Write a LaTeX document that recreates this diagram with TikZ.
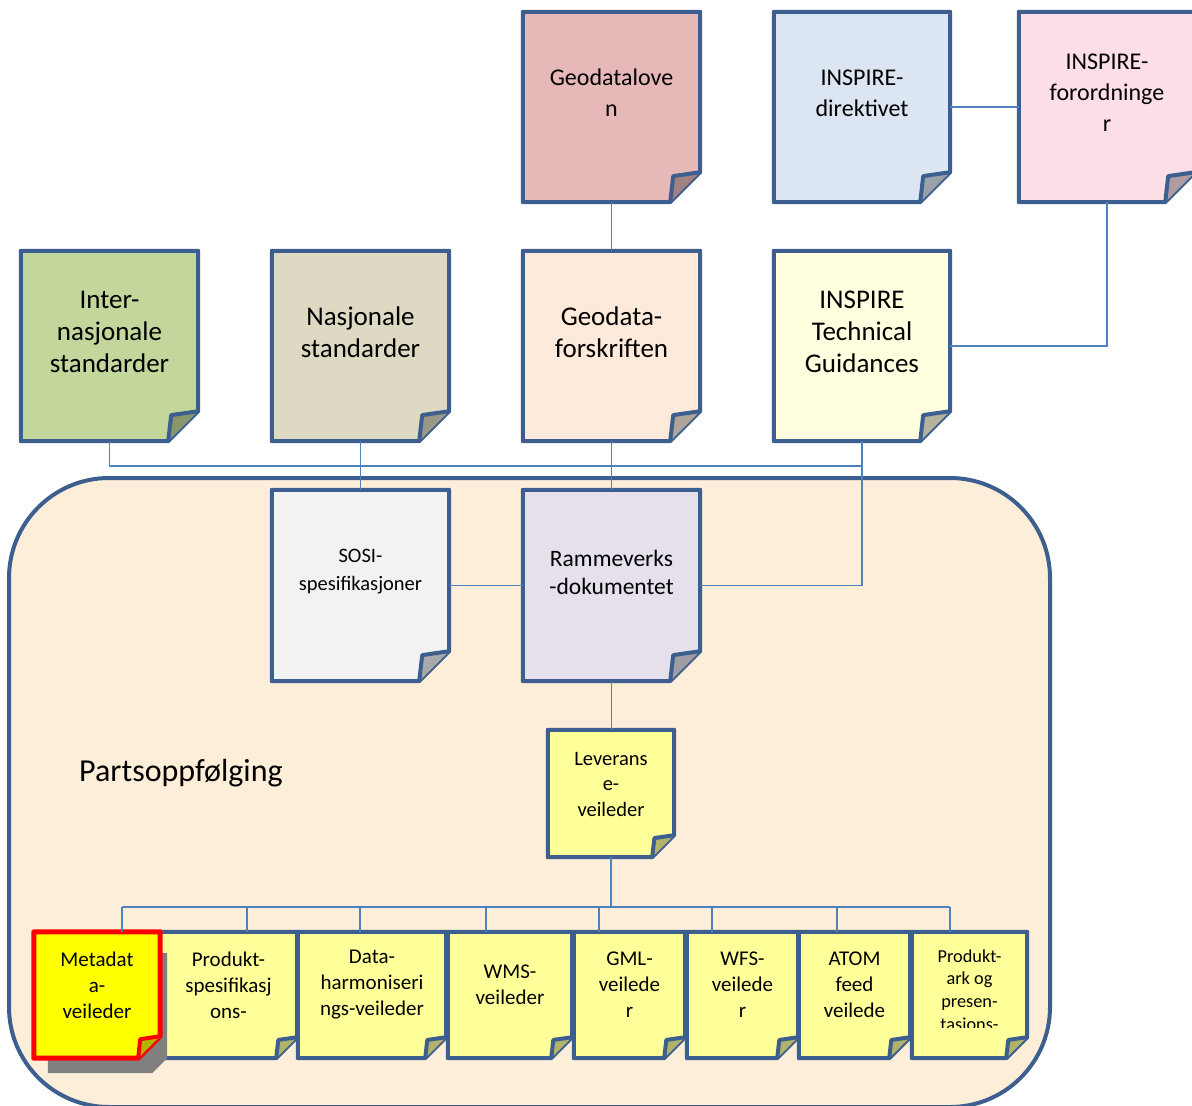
\documentclass[tikz,border=0pt]{standalone}
\usepackage{fontspec}
\setmainfont{Carlito}
\usetikzlibrary{backgrounds}

\definecolor{paperline}{HTML}{3C5F8F}
\definecolor{connline}{HTML}{4F81BD}
\definecolor{framefill}{HTML}{FDEED9}
\definecolor{geolovfill}{HTML}{E6B9B8}
\definecolor{inspdirfill}{HTML}{DCE6F2}
\definecolor{inspforfill}{HTML}{FCDEE6}
\definecolor{intstdfill}{HTML}{C3D69B}
\definecolor{nasstdfill}{HTML}{DDD9C3}
\definecolor{geoforskfill}{HTML}{FDEADA}
\definecolor{insptgfill}{HTML}{FFFFE0}
\definecolor{sosifill}{HTML}{F2F2F2}
\definecolor{rammefill}{HTML}{E5E0EC}
\definecolor{guidefill}{HTML}{FFFF99}
\definecolor{metafill}{HTML}{FFFF00}

\begin{document}
\begin{tikzpicture}[x=1pt, y=-1pt,
	paper/.style 2 args={minimum width=#1, minimum height=#2, inner sep=0pt},
	toptext/.style={align=center, inner sep=0pt, yshift=14, font=\fontsize{24}{31}\selectfont},
	stdtext/.style={align=center, inner sep=0pt, yshift=14, font=\fontsize{27}{32}\selectfont},
	midtext/.style={align=center, inner sep=0pt, yshift=13.5, font=\fontsize{23.5}{28}\selectfont},
	levtext/.style={align=center, inner sep=0pt, yshift=9.5, font=\fontsize{20.5}{25.5}\selectfont},
	bottext/.style={align=center, inner sep=0pt, yshift=10, font=\fontsize{21}{26}\selectfont},
	arktext/.style={align=center, inner sep=0pt, yshift=5, font=\fontsize{18.3}{22.7}\selectfont},
	conn/.style={draw=connline, line width=1.5pt},
	outline/.style={draw=paperline, line width=4pt, line join=round}]
	\useasboundingbox (0,0) rectangle (1192,1106);

	% top row
	\node[paper={177}{190}, label={[toptext]center:{Geodatalove\\n}}] (geolov) at (611.5,107) {};
	\node[paper={176}{190}, label={[toptext]center:{INSPIRE-\\direktivet}}] (inspdir) at (862,107) {};
	\node[paper={176}{190}, label={[toptext]center:{INSPIRE-\\forordninge\\r}}] (inspfor) at (1107,107) {};

	% standards row
	\node[paper={177}{190}, label={[stdtext]center:{Inter-\\nasjonale\\standarder}}] (intstd) at (109.5,346) {};
	\node[paper={177}{190}, label={[stdtext]center:{Nasjonale\\standarder}}] (nasstd) at (360.5,346) {};
	\node[paper={177}{190}, label={[stdtext]center:{Geodata-\\forskriften}}] (geoforsk) at (611.5,346) {};
	\node[paper={176}{190}, label={[stdtext]center:{INSPIRE\\Technical\\Guidances}}] (insptg) at (862,346) {};

	% framework row
	\node[paper={177}{191}, label={[midtext, font=\fontsize{20.5}{28}\selectfont]center:{SOSI-\\spesifikasjoner}}] (sosi) at (360.5,585.5) {};
	\node[paper={177}{191}, label={[midtext]center:{Rammeverks\\-dokumentet}}] (ramme) at (611.5,585.5) {};
	\node[paper={126}{127}, label={[levtext]center:{Leverans\\e-\\veileder}}] (lev) at (611,793.5) {};

	\node[anchor=west, inner sep=0pt, font=\fontsize{32}{38}\selectfont] (parts) at (79,773) {Partsoppfølging};

	% guides
	\node[paper={126}{126}, label={[bottext]center:{Metadat\\a-\\veileder}}] (meta) at (97,995) {};
	\node[paper={137}{126}, label={[bottext]center:{Produkt-\\spesifikasj\\ons-}}] (prodspes) at (228.5,995) {};
	\node[paper={148}{126}, label={[bottext]center:{Data-\\harmoniseri\\ngs-veileder}}] (dataharm) at (372,995) {};
	\node[paper={124}{126}, label={[bottext]center:{WMS-\\veileder}}] (wms) at (510,995) {};
	\node[paper={111}{126}, label={[bottext]center:{GML-\\veilede\\r}}] (gml) at (629.5,995) {};
	\node[paper={111}{126}, label={[bottext]center:{WFS-\\veilede\\r}}] (wfs) at (742.5,995) {};
	\node[paper={111}{126}, label={[bottext]center:{ATOM\\feed\\veilede}}] (atom) at (854.5,995) {};
	\begin{scope}
		\clip (900,900) rectangle (1040,1027);
		\node[paper={115}{126}, label={[arktext]center:{Produkt-\\ark og\\presen-\\tasions-}}] (prodark) at (969.5,995) {};
	\end{scope}

	\begin{scope}[on background layer]
		\draw[outline, fill=framefill, rounded corners=100] (9,478) rectangle (1050,1107);
		\foreach \n/\c/\f in {geolov/geolovfill/30, inspdir/inspdirfill/30, inspfor/inspforfill/30,
			intstd/intstdfill/30, nasstd/nasstdfill/30, geoforsk/geoforskfill/30, insptg/insptgfill/30,
			sosi/sosifill/30, ramme/rammefill/30, lev/guidefill/22,
			prodspes/guidefill/21, dataharm/guidefill/21, wms/guidefill/21, gml/guidefill/21,
			wfs/guidefill/21, atom/guidefill/21, prodark/guidefill/21}{
			\draw[outline, fill=\c] (\n.north west) -- (\n.north east) -- ([yshift=\f]\n.south east)
				-- ([xshift=-\f]\n.south east) -- (\n.south west) -- cycle;
			\draw[outline, fill=\c!70!black] ([yshift=\f]\n.south east) -- ([xshift=-0.9*\f, yshift=0.87*\f]\n.south east)
				-- ([xshift=-\f]\n.south east);
		}
		% shadow and highlighted guide
		\fill[black!50] ([xshift=14,yshift=-21]meta.north west) -- ([xshift=7,yshift=-21]meta.north east)
			-- ([xshift=7]meta.south east) -- ([xshift=-8,yshift=-15]meta.south east)
			-- ([xshift=14,yshift=-15]meta.south west) -- cycle;
		\draw[outline, draw=red, line width=5pt, fill=metafill] (meta.north west) -- (meta.north east)
			-- ([yshift=22]meta.south east) -- ([xshift=-22]meta.south east) -- (meta.south west) -- cycle;
		\draw[outline, draw=red, line width=4pt, fill=metafill!70!black] ([yshift=22]meta.south east)
			-- ([xshift=-20, yshift=19]meta.south east) -- ([xshift=-22]meta.south east);
	\end{scope}

	% connectors
	\coordinate (topbus) at (0,466);
	\coordinate (botbusL) at (122,907);
	\coordinate (botbusR) at (950,907);
	\draw[conn] (geolov) -- (geoforsk);
	\draw[conn] (inspdir) -- (inspfor);
	\draw[conn] (inspfor.south) |- (insptg.east);
	\draw[conn] (intstd.south) |- (insptg.south |- topbus);
	\draw[conn] (nasstd) -- (sosi);
	\draw[conn] (geoforsk) -- (ramme);
	\draw[conn] (insptg.south) |- (ramme.east);
	\draw[conn] (sosi) -- (ramme);
	\draw[conn] (ramme.south) -- (ramme.south |- lev.north);
	\draw[conn] (lev.south) -- (lev.south |- botbusL);
	\draw[conn] (botbusL) -- (botbusR);
	\foreach \x/\n in {122/meta, 247/prodspes, 360/dataharm, 486/wms, 599/gml, 712/wfs, 837/atom, 950/prodark}
		\draw[conn] (\x,907) -- (\x,907 |- \n.north);
\end{tikzpicture}
\end{document}
